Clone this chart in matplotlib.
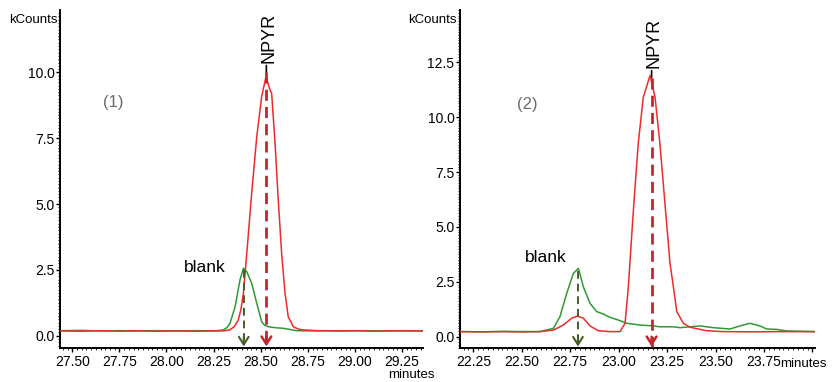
import matplotlib
matplotlib.use("Agg")
import matplotlib.pyplot as plt
from matplotlib.ticker import MultipleLocator, FixedLocator, FormatStrFormatter

plt.rcParams['font.family'] = ['Liberation Sans', 'DejaVu Sans']

# ---------------- data: panel (1) ----------------
t1_red = [27.44, 27.55, 27.65, 27.75, 27.85, 27.95, 28.05, 28.15, 28.25, 28.30,
          28.337, 28.36, 28.381, 28.395, 28.408, 28.429, 28.452, 28.479, 28.505,
          28.528, 28.549, 28.558, 28.576, 28.593, 28.611, 28.629, 28.646, 28.673,
          28.70, 28.726, 28.80, 28.90, 29.00, 29.10, 29.20, 29.30, 29.363]
y1_red = [0.18, 0.17, 0.19, 0.17, 0.18, 0.17, 0.18, 0.17, 0.18, 0.18,
          0.22, 0.35, 0.60, 1.00, 1.61, 3.38, 5.41, 7.56, 9.08,
          9.84, 9.34, 9.21, 7.31, 5.16, 3.13, 1.61, 0.72, 0.34,
          0.25, 0.22, 0.19, 0.18, 0.19, 0.17, 0.18, 0.18, 0.18]

t1_green = [27.44, 27.55, 27.65, 27.75, 27.85, 27.95, 28.05, 28.15, 28.25, 28.28,
            28.301, 28.32, 28.337, 28.364, 28.390, 28.408, 28.426, 28.452, 28.479,
            28.505, 28.52, 28.540, 28.58, 28.620, 28.691, 28.75, 28.85, 28.95,
            29.05, 29.15, 29.25, 29.363]
y1_green = [0.19, 0.20, 0.18, 0.19, 0.18, 0.19, 0.18, 0.19, 0.18, 0.20,
            0.22, 0.30, 0.47, 1.10, 2.12, 2.56, 2.43, 1.99, 1.23,
            0.53, 0.40, 0.34, 0.30, 0.28, 0.19, 0.18, 0.19, 0.18,
            0.19, 0.18, 0.19, 0.18]

# ---------------- data: panel (2) ----------------
t2_red = [22.181, 22.30, 22.40, 22.50, 22.594, 22.663, 22.714, 22.758, 22.787,
          22.818, 22.852, 22.895, 22.955, 23.007, 23.033, 23.050, 23.076, 23.101,
          23.127, 23.162, 23.188, 23.213, 23.239, 23.265, 23.282, 23.300, 23.334,
          23.368, 23.454, 23.538, 23.70, 23.85, 24.013]
y2_red = [0.23, 0.22, 0.23, 0.22, 0.23, 0.30, 0.53, 0.84, 0.94,
          0.84, 0.49, 0.27, 0.23, 0.23, 0.61, 2.27, 5.76, 8.79,
          10.9, 11.9, 10.9, 8.79, 6.06, 3.34, 2.30, 1.14, 0.61,
          0.43, 0.27, 0.23, 0.22, 0.23, 0.23]

t2_green = [22.181, 22.30, 22.40, 22.50, 22.594, 22.663, 22.697, 22.732, 22.766,
            22.792, 22.818, 22.852, 22.887, 22.921, 22.955, 22.998, 23.042, 23.110,
            23.179, 23.213, 23.282, 23.317, 23.420, 23.488, 23.575, 23.626, 23.678,
            23.729, 23.764, 23.816, 23.867, 24.013]
y2_green = [0.23, 0.22, 0.24, 0.23, 0.23, 0.38, 0.91, 1.97, 2.88,
            3.11, 2.27, 1.52, 1.14, 1.03, 0.88, 0.76, 0.61, 0.53,
            0.49, 0.45, 0.45, 0.41, 0.49, 0.41, 0.35, 0.49, 0.61,
            0.49, 0.35, 0.33, 0.26, 0.23]

# retention-time markers
rt1_npyr, rt1_blank = 28.53, 28.41
rt2_npyr, rt2_blank = 23.17, 22.79
top1_npyr, top1_blank = 10.0, 2.5
top2_npyr, top2_blank = 11.8, 3.0

x1_ticks = [27.50, 27.75, 28.00, 28.25, 28.50, 28.75, 29.00, 29.25]
y1_ticks = [0.0, 2.5, 5.0, 7.5, 10.0]
x2_ticks = [22.25, 22.50, 22.75, 23.00, 23.25, 23.50, 23.75, 24.00]
x2_labels = ['22.25', '22.50', '22.75', '23.00', '23.25', '23.50', '23.75', '']
y2_ticks = [0.0, 2.5, 5.0, 7.5, 10.0, 12.5]

RED = '#ee2a2a'
GREEN = '#2f9a35'
DRED = '#c4262c'
DGREEN = '#4a5d27'

fig = plt.figure(figsize=(8.36, 3.82), dpi=100)
ax1 = fig.add_axes([0.0718, 0.0882, 0.4346, 0.8856])
ax2 = fig.add_axes([0.5502, 0.0882, 0.4246, 0.8856])


def style(ax, xlim, ylim, xt, xl, yt):
    ax.set_xlim(*xlim)
    ax.set_ylim(*ylim)
    for s in ['top', 'right']:
        ax.spines[s].set_visible(False)
    for s in ['left', 'bottom']:
        ax.spines[s].set_linewidth(1.4)
        ax.spines[s].set_color('black')
    ax.xaxis.set_major_locator(FixedLocator(xt))
    ax.set_xticklabels(xl)
    ax.yaxis.set_major_locator(FixedLocator(yt))
    ax.yaxis.set_major_formatter(FormatStrFormatter('%.1f'))
    ax.xaxis.set_minor_locator(MultipleLocator(0.025))
    ax.yaxis.set_minor_locator(MultipleLocator(0.125))
    ax.tick_params(which='major', length=3, width=1, labelsize=10)
    ax.tick_params(axis='y', which='major', pad=1)
    ax.tick_params(axis='x', which='major', pad=1.5)
    ax.tick_params(which='minor', length=1.5, width=0.6)
    ax.set_facecolor('white')


def marks(ax, rt_n, top_n, rt_b, top_b, tip, text_dx):
    ax.plot([rt_n, rt_n], [top_n, tip], color=DRED, lw=2.0, dashes=(4, 2.2), zorder=5)
    ax.plot([rt_b, rt_b], [top_b, tip], color=DGREEN, lw=1.4, dashes=(4, 2.5), zorder=5)
    ax.annotate('', xy=(rt_n, tip), xytext=(0, 7), textcoords='offset points',
                arrowprops=dict(arrowstyle='->,head_length=0.55,head_width=0.35',
                                color=DRED, lw=1.8, shrinkA=0, shrinkB=0), zorder=6)
    ax.annotate('', xy=(rt_b, tip), xytext=(0, 7), textcoords='offset points',
                arrowprops=dict(arrowstyle='->,head_length=0.55,head_width=0.35',
                                color=DGREEN, lw=1.5, shrinkA=0, shrinkB=0), zorder=6)
    # black peak marker + NPYR label
    ax.annotate('', xy=(rt_n, top_n), xytext=(0, 5), textcoords='offset points',
                arrowprops=dict(arrowstyle='-', color='black', lw=1.2,
                                shrinkA=0, shrinkB=0))
    ax.annotate('NPYR', xy=(rt_n, top_n), xytext=(text_dx, 7), textcoords='offset points',
                rotation=90, ha='center', va='bottom', fontsize=13)


# panel (1)
ax1.plot(t1_green, y1_green, color=GREEN, lw=1.1, zorder=3)
ax1.plot(t1_red, y1_red, color=RED, lw=1.1, zorder=4)
style(ax1, (27.435, 29.363), (-0.48, 12.37), x1_ticks,
      ['%.2f' % v for v in x1_ticks], y1_ticks)
marks(ax1, rt1_npyr, top1_npyr, rt1_blank, top1_blank, -0.41, 2)

# panel (2)
ax2.plot(t2_green, y2_green, color=GREEN, lw=1.1, zorder=3)
ax2.plot(t2_red, y2_red, color=RED, lw=1.1, zorder=4)
style(ax2, (22.181, 24.013), (-0.53, 14.88), x2_ticks, x2_labels, y2_ticks)
marks(ax2, rt2_npyr, top2_npyr, rt2_blank, top2_blank, -0.45, 2)

# texts in figure pixel coordinates
W, H = 836, 382


def ftext(x, y, s, **kw):
    fig.text(x / W, 1 - y / H, s, **kw)


ftext(33, 20, 'kCounts', ha='center', va='center', fontsize=9.5)
ftext(457, 20, 'kCounts', ha='right', va='center', fontsize=9.5)
ftext(113, 102, '(1)', ha='center', va='center', fontsize=12, color='#6b6b6b')
ftext(527, 105, '(2)', ha='center', va='center', fontsize=12, color='#6b6b6b')
ftext(205, 267, 'blank', ha='center', va='center', fontsize=12.5)
ftext(546, 257, 'blank', ha='center', va='center', fontsize=12.5)
ftext(411, 375, 'minutes', ha='center', va='center', fontsize=9.5)
ftext(803, 364, 'minutes', ha='center', va='center', fontsize=9.5)

fig.savefig('out.png', dpi=100, facecolor='white')
